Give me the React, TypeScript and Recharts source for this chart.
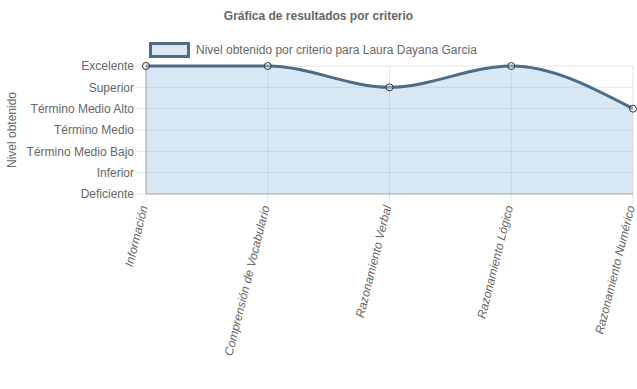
import { Area, AreaChart, CartesianGrid, Label, XAxis, YAxis } from 'recharts';

const criterios = [
  'Información',
  'Comprensión de Vocabulario',
  'Razonamiento Verbal',
  'Razonamiento Lógico',
  'Razonamiento Numérico',
];
const niveles = [6, 6, 5, 6, 4];
const nivelLabels = [
  'Deficiente',
  'Inferior',
  'Término Medio Bajo',
  'Término Medio',
  'Término Medio Alto',
  'Superior',
  'Excelente',
];

const seriesName = 'Nivel obtenido por criterio para Laura Dayana Garcia';
const data = criterios.map((criterio, i) => ({ criterio, nivel: niveles[i] }));

const font = 'Arial, "Liberation Sans", Helvetica, sans-serif';

function RotatedTick(props: any) {
  const { x, y, payload } = props;
  const tx = x - 1;
  return (
    <text
      x={tx}
      y={y}
      transform={`rotate(-76, ${tx}, ${y})`}
      textAnchor="end"
      dy="0.25em"
      fontSize={12}
      fontStyle="italic"
      fill="#666"
      fontFamily={font}
    >
      {payload.value}
    </text>
  );
}

export default function App() {
  return (
    <div style={{ position: 'absolute', left: 0, top: 0, width: 637, height: 389, background: '#fff' }}>
      <div
        style={{
          position: 'absolute',
          top: 9,
          width: 637,
          textAlign: 'center',
          fontFamily: font,
          fontSize: 12,
          fontWeight: 'bold',
          color: '#666',
        }}
      >
        Gráfica de resultados por criterio
      </div>
      <div
        style={{
          position: 'absolute',
          left: 149,
          top: 42,
          display: 'flex',
          alignItems: 'center',
          fontFamily: font,
          fontSize: 12,
          color: '#666',
        }}
      >
        <span
          style={{
            width: 35,
            height: 10,
            background: '#dae7f3',
            border: '3px solid #4e6b87',
            marginRight: 6,
            boxSizing: 'content-box',
          }}
        />
        {seriesName}
      </div>
      <AreaChart width={637} height={389} data={data} margin={{ top: 66, right: 4, bottom: 0, left: 0 }}>
        <CartesianGrid stroke="rgba(0,0,0,0.1)" />
        <XAxis
          dataKey="criterio"
          interval={0}
          tick={<RotatedTick />}
          tickSize={10}
          height={195}
          stroke="rgba(0,0,0,0.25)"
          tickLine={{ stroke: 'rgba(0,0,0,0.1)' }}
        />
        <YAxis
          type="number"
          domain={[0, 6]}
          ticks={[0, 1, 2, 3, 4, 5, 6]}
          interval={0}
          tickFormatter={(v: number) => nivelLabels[v]}
          width={146}
          tickSize={10}
          tickMargin={2}
          stroke="rgba(0,0,0,0.25)"
          tickLine={{ stroke: 'rgba(0,0,0,0.1)' }}
          tick={{ fontSize: 12, fill: '#666', fontFamily: font }}
        >
          <Label
            value="Nivel obtenido"
            angle={-90}
            position="insideLeft"
            offset={12}
            style={{ fontSize: 12, fill: '#666', fontFamily: font, textAnchor: 'middle' }}
          />
        </YAxis>
        <Area
          type="monotone"
          dataKey="nivel"
          name={seriesName}
          stroke="#4e6b87"
          strokeWidth={3}
          fill="rgb(147,190,227)"
          fillOpacity={0.35}
          dot={{ r: 3.5, fill: '#fff', stroke: '#333', strokeWidth: 1 }}
          isAnimationActive={false}
        />
      </AreaChart>
    </div>
  );
}
